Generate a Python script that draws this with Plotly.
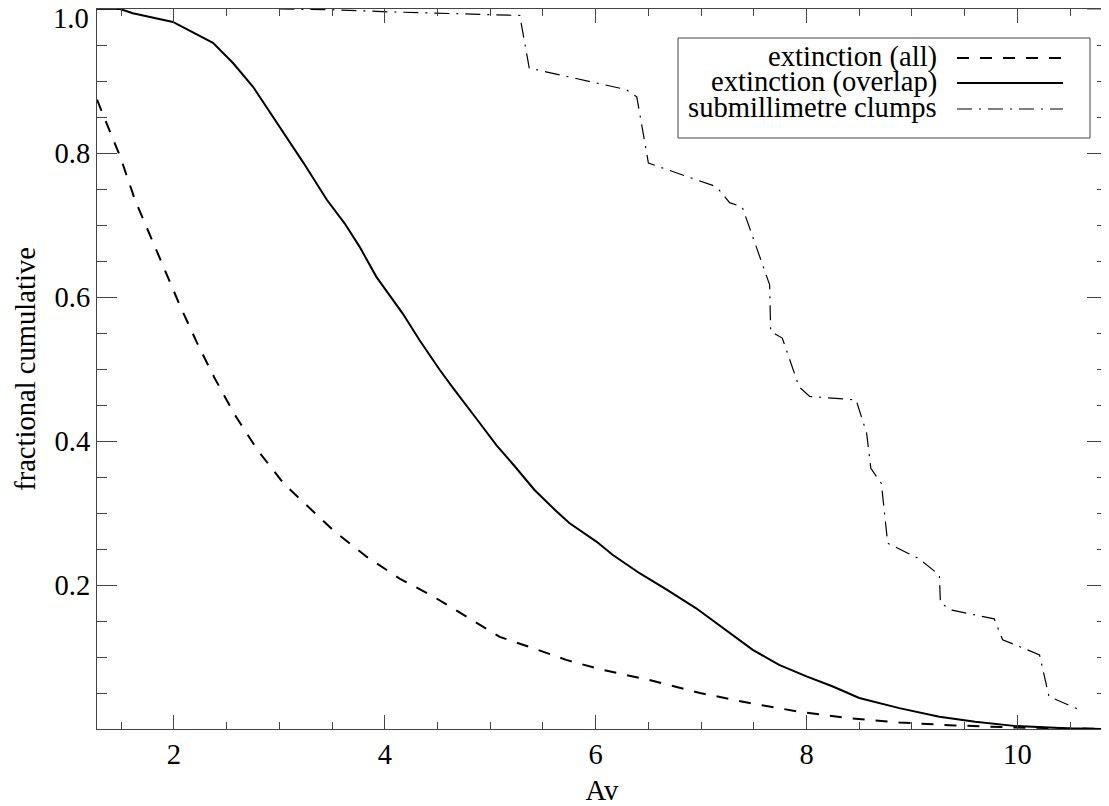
import plotly.graph_objects as go

# ---- data ----
av_all = [1.27, 1.39, 1.49, 1.63, 1.78, 1.90, 2.06, 2.22, 2.38, 2.57, 2.79, 3.04, 3.19,
          3.51, 3.83, 4.14, 4.46, 4.77, 5.09, 5.41, 5.72, 6.04, 6.51, 6.99, 7.46, 7.93,
          8.41, 8.88, 9.40, 10.00, 10.50, 10.85]
frac_all = [0.874, 0.832, 0.795, 0.735, 0.684, 0.642, 0.587, 0.536, 0.489, 0.438, 0.388,
            0.341, 0.320, 0.276, 0.239, 0.209, 0.184, 0.156, 0.128, 0.112, 0.096, 0.083,
            0.068, 0.050, 0.036, 0.024, 0.015, 0.009, 0.005, 0.002, 0.0007, 0.0]

av_overlap = [1.27, 1.49, 1.61, 1.99, 2.37, 2.56, 2.75, 2.94, 3.10, 3.23, 3.45, 3.62, 3.76,
              3.92, 4.17, 4.33, 4.52, 4.65, 4.90, 5.06, 5.22, 5.42, 5.63, 5.75, 6.01, 6.16,
              6.42, 6.67, 6.95, 7.13, 7.49, 7.74, 8.00, 8.25, 8.50, 8.88, 9.26, 9.60, 9.99,
              10.46, 10.85]
frac_overlap = [1.0, 1.0, 0.994, 0.982, 0.953, 0.925, 0.892, 0.850, 0.813, 0.786, 0.735,
                0.702, 0.670, 0.628, 0.577, 0.540, 0.499, 0.473, 0.425, 0.394, 0.367, 0.332,
                0.302, 0.286, 0.260, 0.242, 0.216, 0.194, 0.168, 0.149, 0.110, 0.089, 0.073,
                0.059, 0.043, 0.029, 0.017, 0.010, 0.004, 0.001, 0.0]

av_submm = [3.00, 3.50, 4.05, 4.90, 5.28, 5.37, 6.29, 6.39, 6.50, 7.11, 7.17, 7.27, 7.39,
            7.65, 7.66, 7.77, 7.92, 7.93, 8.03, 8.47, 8.57, 8.61, 8.71, 8.77, 9.06, 9.26,
            9.27, 9.38, 9.78, 9.86, 10.21, 10.30, 10.60]
frac_submm = [1.0, 0.999, 0.996, 0.993, 0.991, 0.918, 0.888, 0.878, 0.786, 0.755, 0.749,
              0.731, 0.725, 0.617, 0.552, 0.543, 0.482, 0.475, 0.462, 0.457, 0.411, 0.362,
              0.341, 0.258, 0.237, 0.214, 0.175, 0.165, 0.153, 0.124, 0.103, 0.045, 0.026]

series_names = ["extinction (all)", "extinction (overlap)", "submillimetre clumps"]
x_ticks = [2, 4, 6, 8, 10]
y_ticks = [0.2, 0.4, 0.6, 0.8, 1.0]
y_ticklabels = ["0.2", "0.4", "0.6", "0.8", "1.0"]

FONT = "Liberation Serif, Times New Roman, Times, serif"
FS = 28.6
AX = "#444444"

dash_all = "12px,11px"
dash_sub = "15px,7px,2px,7px"

fig = go.Figure()
fig.add_trace(go.Scatter(x=av_all, y=frac_all, mode="lines", name=series_names[0],
                         line=dict(color="black", width=2, dash=dash_all)))
fig.add_trace(go.Scatter(x=av_overlap, y=frac_overlap, mode="lines", name=series_names[1],
                         line=dict(color="black", width=2)))
fig.add_trace(go.Scatter(x=av_submm, y=frac_submm, mode="lines", name=series_names[2],
                         line=dict(color="black", width=1.2, dash=dash_sub)))

# The page body adds an 8px offset, so the figure is sized to fill the window from there.
OFF = 8
W, H = 1109 - OFF, 806 - OFF
PL, PT, PR, PB = 97, 9, 1107, 729  # plot area in window pixels
L, T = PL - OFF, PT - OFF
R, B = W - (PR - OFF), H - (PB - OFF)
PW, PH = PR - PL, PB - PT


def px(x):
    return (x - PL) / PW


def py(y):
    return (PB - y) / PH


fig.update_layout(
    width=W, height=H,
    margin=dict(l=L, r=R, t=T, b=B, pad=0),
    plot_bgcolor="white", paper_bgcolor="white",
    font=dict(family=FONT, size=FS, color="black"),
    showlegend=False,
    xaxis=dict(
        range=[1.27, 10.85], tickmode="array", tickvals=x_ticks,
        ticks="inside", ticklen=14, tickwidth=1, tickcolor=AX,
        showline=True, linecolor=AX, linewidth=1, mirror="ticks",
        showgrid=False, zeroline=False, automargin=False,
        ticklabelstandoff=0,
        minor=dict(dtick=0.5, tick0=0, ticks="inside", ticklen=7, tickcolor=AX, showgrid=False),
        title=dict(text="Av", standoff=10, font=dict(family=FONT, size=FS)),
    ),
    yaxis=dict(
        range=[0, 1.0], tickmode="array", tickvals=y_ticks[:-1], ticktext=y_ticklabels[:-1],
        ticks="inside", ticklen=20, tickwidth=1, tickcolor=AX,
        showline=True, linecolor=AX, linewidth=1, mirror="ticks",
        showgrid=False, zeroline=False, automargin=False,
        ticklabelstandoff=0,
        minor=dict(dtick=0.05, tick0=0, ticks="inside", ticklen=10, tickcolor=AX, showgrid=False),
        title=dict(text="fractional cumulative", standoff=10, font=dict(family=FONT, size=FS)),
    ),
)

# top tick (1.0): major tick mark drawn on both sides, label placed just below the frame
for x0, x1 in [(0, 20 / PW), (1 - 20 / PW, 1)]:
    fig.add_shape(type="line", xref="paper", yref="y", x0=x0, x1=x1,
                  y0=y_ticks[-1], y1=y_ticks[-1], line=dict(color=AX, width=1))
fig.add_annotation(xref="paper", yref="y", x=px(91), y=y_ticks[-1], yshift=-9,
                   text=y_ticklabels[-1], showarrow=False, xanchor="right", yanchor="middle",
                   font=dict(family=FONT, size=FS, color="black"))

# ---- custom legend (text right-aligned, line sample on the right) ----
fig.add_shape(type="rect", xref="paper", yref="paper",
              x0=px(678), x1=px(1090), y0=py(138), y1=py(38),
              line=dict(color=AX, width=1), fillcolor="white", layer="above")
rows_y = [57, 82, 108]
styles = [dict(color="black", width=2, dash=dash_all),
          dict(color="black", width=2),
          dict(color="black", width=1.2, dash=dash_sub)]
for name, ry, st in zip(series_names, rows_y, styles):
    fig.add_annotation(xref="paper", yref="paper", x=px(939), y=py(ry),
                       text=name, showarrow=False, xanchor="right", yanchor="middle",
                       font=dict(family=FONT, size=FS, color="black"))
    fig.add_shape(type="line", xref="paper", yref="paper",
                  x0=px(957), x1=px(1063), y0=py(ry + 1), y1=py(ry + 1), line=st, layer="above")

fig.write_html("out.html")
